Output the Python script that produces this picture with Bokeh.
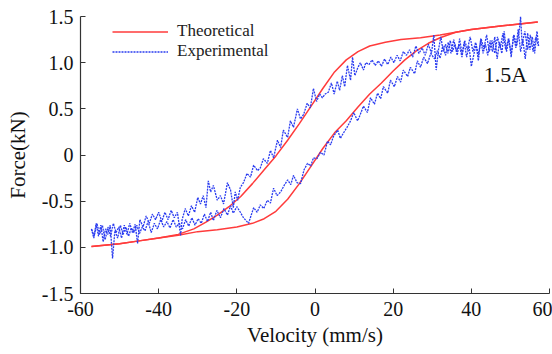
from bokeh.plotting import figure
from bokeh.models import Range1d, FixedTicker, Legend, LegendItem, Label
from bokeh.embed import file_html
from bokeh.resources import INLINE

# ---- data ----
x_ticks = [-60, -40, -20, 0, 20, 40, 60]
y_ticks = [-1.5, -1.0, -0.5, 0, 0.5, 1.0, 1.5]
y_tick_labels = ["-1.5", "-1.0", "-0.5", "0", "0.5", "1.0", "1.5"]

theo_desc_v = [57, 48, 40, 36, 32, 27, 22, 18, 14, 11, 8, 5, 2, -1, -4, -7, -10, -13, -16, -19, -22, -25, -28, -31, -35, -40, -45, -50, -57.2]
theo_desc_f = [1.44, 1.40, 1.36, 1.33, 1.30, 1.27, 1.25, 1.22, 1.18, 1.12, 1.03, 0.90, 0.72, 0.53, 0.34, 0.16, -0.01, -0.16, -0.31, -0.45, -0.56, -0.65, -0.73, -0.80, -0.86, -0.90, -0.93, -0.96, -0.99]

theo_asc_v = [-57.2, -50, -45, -40, -35, -30, -25, -20, -16, -13, -10, -7, -4, -1, 2, 5, 8, 11, 14, 17, 20, 23, 26, 29, 32, 36, 40, 48, 57]
theo_asc_f = [-0.99, -0.96, -0.93, -0.90, -0.87, -0.83, -0.81, -0.78, -0.74, -0.69, -0.61, -0.48, -0.31, -0.12, 0.07, 0.24, 0.37, 0.52, 0.66, 0.78, 0.91, 1.03, 1.13, 1.21, 1.27, 1.33, 1.36, 1.40, 1.44]

exp_asc = [(-57.2,-0.80),(-56.6,-0.90),(-56.0,-0.74),(-55.4,-0.88),(-54.8,-0.76),(-54.2,-0.94),(-53.6,-0.80),(-53.0,-0.86),(-52.4,-0.76),(-51.8,-1.12),
           (-51.2,-0.82),(-50.5,-0.90),(-49.8,-0.76),(-49.1,-0.86),(-48.4,-0.78),(-47.7,-0.88),(-47.0,-0.79),(-46.3,-0.84),(-45.6,-0.76),(-44.9,-0.85),
           (-44.2,-0.78),(-43.5,-0.82),(-42.7,-0.72),(-41.9,-0.84),(-41.1,-0.74),(-40.3,-0.80),(-39.5,-0.70),(-38.7,-0.78),(-37.9,-0.72),(-37.1,-0.79),
           (-36.3,-0.70),(-35.5,-0.78),(-34.7,-0.74),(-33.9,-0.80),(-33.1,-0.70),(-32.3,-0.77),(-31.5,-0.68),(-30.7,-0.76),(-29.9,-0.69),(-29.1,-0.74),
           (-28.3,-0.64),(-27.5,-0.72),(-26.7,-0.62),(-26.0,-0.71),(-25.1,-0.60),(-24.2,-0.68),(-23.3,-0.58),(-22.4,-0.65),(-21.6,-0.55),(-20.9,-0.63),
           (-20.0,-0.56),(-19.1,-0.62),(-18.3,-0.68),(-17.0,-0.74),(-15.7,-0.57),(-14.8,-0.62),(-14.0,-0.54),(-13.1,-0.58),(-12.2,-0.49),(-11.4,-0.52),
           (-10.6,-0.36),(-9.7,-0.44),(-8.8,-0.40),(-7.9,-0.33),(-7.0,-0.27),(-6.2,-0.32),(-5.5,-0.22),(-4.6,-0.30),(-3.7,-0.31),(-2.8,-0.16),
           (-1.9,-0.09),(-1.1,-0.12),(-0.4,-0.03),(0.5,-0.04),(1.4,0.03),(2.3,0.00),(3.2,0.15),(4.0,0.11),(4.7,0.20),(5.8,0.27),
           (6.5,0.18),(7.3,0.24),(8.2,0.30),(9.1,0.37),(9.9,0.46),(10.9,0.37),(11.6,0.44),(12.4,0.53),(13.4,0.46),(14.2,0.62),
           (15.2,0.55),(16.0,0.67),(16.8,0.61),(17.5,0.74),(18.6,0.67),(19.3,0.81),(20.3,0.74),(21.1,0.85),(21.9,0.79),(22.6,0.92),
           (23.7,0.85),(24.4,0.95),(25.5,0.88),(26.2,1.02),(27.0,0.95),(27.8,1.06),(28.8,0.99),(29.6,1.10),(30.6,1.04),(31.3,1.13),
           (32.0,1.05),(32.7,1.18),(33.4,1.08),(34.1,1.22),(34.8,1.10),(35.5,1.25),(36.2,1.12),(36.9,1.20),(37.6,1.06),(38.3,1.24),
           (39.0,1.14),(39.7,1.28),(40.4,1.12),(41.1,1.22),(41.8,1.08),(42.5,1.26),(43.2,1.15),(43.9,1.30),(44.6,1.12),(45.3,1.24),
           (46.0,1.10),(46.7,1.28),(47.4,1.16),(48.1,1.32),(48.8,1.14),(49.5,1.26),(50.2,1.10),(50.9,1.30),(51.6,1.18),(52.3,1.36),
           (52.6,1.50),(53.0,1.20),(53.7,1.34),(54.4,1.14),(55.1,1.30),(55.8,1.12),(56.5,1.28),(57.2,1.18)]

exp_desc = [(57.2,1.18),(56.8,1.34),(56.2,1.10),(55.6,1.28),(55.0,1.14),(54.4,1.32),(53.8,1.04),(53.2,1.24),(52.6,1.12),(52.0,1.36),
            (51.4,1.16),(50.8,1.30),(50.2,1.06),(49.6,1.26),(49.0,1.12),(48.4,1.34),(47.8,1.10),(47.2,1.22),(46.6,1.04),(46.0,1.28),
            (45.4,1.12),(44.8,1.24),(44.2,1.08),(43.6,1.20),(43.0,1.10),(42.4,1.26),(41.8,1.02),(41.2,1.20),(40.6,1.08),(40.0,0.96),
            (39.4,1.18),(38.8,1.06),(38.2,1.22),(37.6,1.10),(37.0,1.26),(36.4,1.08),(35.8,1.20),(35.2,1.12),(34.6,1.24),(34.0,1.10),
            (33.4,1.20),(32.8,1.12),(32.2,1.28),(31.6,1.14),(31.0,0.92),(30.4,1.30),(29.8,1.10),(29.0,1.20),(28.2,1.08),(27.4,1.16),
            (26.6,1.10),(25.8,1.18),(25.0,1.06),(24.2,1.14),(23.4,1.08),(22.6,1.12),(21.8,1.02),(21.0,1.08),(20.2,1.00),(19.4,1.06),
            (18.6,0.98),(17.8,1.04),(17.0,0.96),(16.2,1.02),(15.4,0.97),(14.6,1.03),(13.8,0.98),(13.0,1.00),(12.4,0.92),(11.6,1.00),
            (10.9,0.94),(10.2,0.86),(9.6,1.06),(9.1,0.81),(8.3,0.97),(7.6,0.74),(7.0,0.86),(6.3,0.70),(5.7,0.80),(4.9,0.66),
            (4.2,0.78),(3.4,0.68),(2.6,0.66),(1.9,0.62),(1.2,0.66),(0.4,0.58),(-0.4,0.72),(-1.2,0.51),(-2.0,0.56),(-2.9,0.44),
            (-3.7,0.39),(-4.5,0.50),(-5.5,0.30),(-6.3,0.37),(-7.0,0.19),(-8.1,0.27),(-8.8,0.08),(-9.6,0.16),(-10.6,-0.03),(-11.4,0.05),
            (-12.2,-0.09),(-13.2,-0.04),(-14.0,-0.14),(-14.7,-0.17),(-15.7,-0.11),(-16.5,-0.24),(-17.4,-0.20),(-18.3,-0.30),(-19.1,-0.35),(-19.8,-0.49),
            (-20.4,-0.40),(-20.9,-0.57),(-21.6,-0.38),(-22.4,-0.30),(-23.4,-0.53),(-24.2,-0.44),(-25.0,-0.49),(-26.0,-0.33),(-26.7,-0.40),(-27.3,-0.28),
            (-27.9,-0.57),(-28.6,-0.44),(-29.3,-0.53),(-30.0,-0.46),(-30.8,-0.62),(-31.6,-0.55),(-32.4,-0.66),(-33.2,-0.58),(-34.0,-0.70),(-34.4,-0.87),
            (-35.2,-0.62),(-36.0,-0.68),(-36.8,-0.60),(-37.6,-0.70),(-38.4,-0.62),(-39.2,-0.72),(-40.0,-0.62),(-40.8,-0.70),(-41.6,-0.64),(-42.4,-0.74),
            (-43.2,-0.66),(-44.0,-0.78),(-44.8,-0.70),(-45.4,-0.96),(-46.0,-0.75),(-46.7,-0.84),(-47.4,-0.74),(-48.1,-0.86),(-48.8,-0.76),(-49.5,-0.90),
            (-50.2,-0.78),(-50.9,-0.84),(-51.6,-0.74),(-52.3,-0.88),(-53.0,-0.78),(-53.7,-0.92),(-54.4,-0.76),(-55.1,-0.86),(-55.8,-0.74),(-56.5,-0.88),
            (-57.2,-0.80)]

annotation_text = "1.5A"
legend_labels = ["Theoretical", "Experimental"]

# ---- figure ----
FONT = "Liberation Serif"
RED = "#ff3b3b"
BLUE = "#2a3cf0"
AX = "#333333"

p = figure(width=552, height=354, output_backend="svg", toolbar_location=None,
           x_range=Range1d(-60, 60), y_range=Range1d(-1.5, 1.5),
           min_border_left=80, min_border_right=3, min_border_top=16, min_border_bottom=61)
p.outline_line_color = None
p.xgrid.visible = False
p.ygrid.visible = False
p.background_fill_color = "white"
p.border_fill_color = "white"

r_t1 = p.line(theo_desc_v, theo_desc_f, line_color=RED, line_width=1.5)
r_t2 = p.line(theo_asc_v, theo_asc_f, line_color=RED, line_width=1.5)
r_e1 = p.line([a for a, b in exp_asc], [b for a, b in exp_asc], line_color=BLUE, line_width=1.3, line_dash="2 1")
r_e2 = p.line([a for a, b in exp_desc], [b for a, b in exp_desc], line_color=BLUE, line_width=1.3, line_dash="2 1")

for ax in (p.xaxis[0], p.yaxis[0]):
    ax.axis_line_color = AX
    ax.axis_line_width = 1.2
    ax.major_tick_line_color = AX
    ax.major_tick_in = 5
    ax.major_tick_out = 0
    ax.minor_tick_line_color = None
    ax.major_label_text_font = FONT
    ax.major_label_text_font_size = "20px"
    ax.major_label_text_color = "#111111"
    ax.axis_label_text_font = FONT
    ax.axis_label_text_font_size = "21px"
    ax.axis_label_text_font_style = "normal"
    ax.axis_label_text_color = "#111111"

p.xaxis.ticker = FixedTicker(ticks=x_ticks)
p.yaxis.ticker = FixedTicker(ticks=y_ticks)
p.yaxis.major_label_overrides = {t: s for t, s in zip(y_ticks, y_tick_labels)}
p.xaxis.major_label_overrides = {t: str(t) for t in x_ticks}
p.xaxis.axis_label = "Velocity (mm/s)"
p.yaxis.axis_label = "Force(kN)"
p.xaxis.major_label_standoff = 8
p.xaxis.axis_label_standoff = 4
p.yaxis.major_label_standoff = 7
p.yaxis.axis_label_standoff = 9

legend = Legend(items=[LegendItem(label=legend_labels[0], renderers=[r_t1]),
                       LegendItem(label=legend_labels[1], renderers=[r_e1])],
                location=(32, 232))
legend.background_fill_alpha = 0
legend.border_line_color = None
legend.padding = 4
legend.margin = 0
legend.spacing = 0
legend.glyph_width = 56
legend.glyph_height = 19
legend.label_height = 19
legend.label_standoff = 9
legend.label_text_font = FONT
legend.label_text_font_size = "17px"
legend.label_text_color = "#222222"
p.add_layout(legend, "center")

p.add_layout(Label(x=43.2, y=0.87, text=annotation_text, text_font=FONT,
                   text_font_size="22px", text_color="#111111", text_baseline="middle"))

open("out.html", "w").write(file_html(p, INLINE))
